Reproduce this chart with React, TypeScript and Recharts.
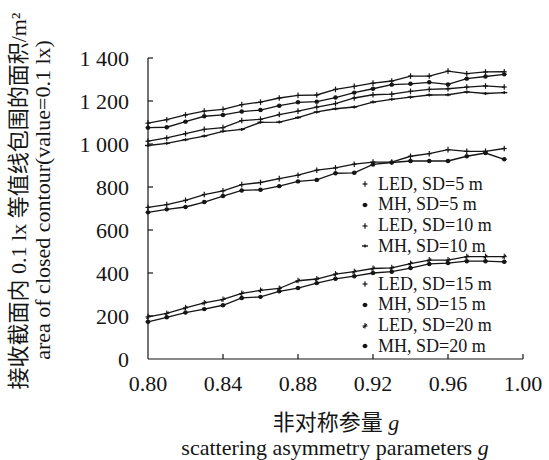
import { LineChart, Line, XAxis, YAxis, Label } from "recharts"

// scattering asymmetry parameter g
const gValues = [0.8, 0.81, 0.82, 0.83, 0.84, 0.85, 0.86, 0.87, 0.88, 0.89, 0.9, 0.91, 0.92, 0.93, 0.94, 0.95, 0.96, 0.97, 0.98, 0.99]

// enclosed area of the 0.1 lx contour, m²
const ledSd5 = [1097, 1113, 1135, 1153, 1161, 1183, 1195, 1214, 1226, 1228, 1254, 1268, 1283, 1293, 1316, 1316, 1339, 1327, 1335, 1336]
const mhSd5 = [1076, 1078, 1104, 1129, 1135, 1151, 1158, 1178, 1194, 1197, 1216, 1239, 1257, 1276, 1280, 1287, 1277, 1304, 1314, 1324]
const ledSd10 = [1013, 1028, 1048, 1068, 1076, 1109, 1115, 1137, 1153, 1172, 1188, 1214, 1229, 1232, 1245, 1254, 1257, 1265, 1270, 1265]
const mhSd10 = [993, 1003, 1020, 1037, 1059, 1068, 1101, 1102, 1123, 1149, 1164, 1172, 1195, 1208, 1218, 1228, 1229, 1242, 1235, 1239]
const ledSd15 = [705, 718, 738, 765, 782, 811, 821, 839, 855, 878, 889, 906, 916, 916, 943, 955, 974, 966, 966, 979]
const mhSd15 = [682, 696, 707, 730, 758, 784, 787, 804, 826, 833, 864, 866, 905, 914, 921, 921, 921, 943, 958, 929]
const ledSd20 = [196, 212, 238, 261, 277, 305, 319, 328, 364, 372, 395, 406, 421, 424, 444, 460, 460, 476, 476, 476]
const mhSd20 = [173, 194, 216, 232, 250, 284, 289, 315, 330, 353, 373, 385, 400, 406, 423, 442, 446, 455, 455, 452]

const xTicks = [0.8, 0.84, 0.88, 0.92, 0.96, 1.0]
const yTicks = [0, 200, 400, 600, 800, 1000, 1200, 1400]

type MarkerKind = "plus" | "dot" | "dash" | "star"

const series: { key: string; name: string; values: number[]; marker: MarkerKind }[] = [
  { key: "ledSd5", name: "LED, SD=5 m", values: ledSd5, marker: "plus" },
  { key: "mhSd5", name: "MH, SD=5 m", values: mhSd5, marker: "dot" },
  { key: "ledSd10", name: "LED, SD=10 m", values: ledSd10, marker: "plus" },
  { key: "mhSd10", name: "MH, SD=10 m", values: mhSd10, marker: "dash" },
  { key: "ledSd15", name: "LED, SD=15 m", values: ledSd15, marker: "plus" },
  { key: "mhSd15", name: "MH, SD=15 m", values: mhSd15, marker: "dot" },
  { key: "ledSd20", name: "LED, SD=20 m", values: ledSd20, marker: "star" },
  { key: "mhSd20", name: "MH, SD=20 m", values: mhSd20, marker: "dot" },
]

const data = gValues.map((g, i) => {
  const row: Record<string, number> = { g }
  series.forEach((s) => {
    row[s.key] = s.values[i]
  })
  return row
})

const INK = "#151515"
const SERIF = "'Liberation Serif', 'Times New Roman', serif"
const SERIF_CJK = "'Liberation Serif', 'Noto Sans CJK SC', serif"

function Marker({ cx, cy, kind }: { cx: number; cy: number; kind: MarkerKind }) {
  if (kind === "dot") {
    return (
      <g stroke={INK} strokeWidth={1.2}>
        <line x1={cx - 2.5} y1={cy} x2={cx + 2.5} y2={cy} />
        <circle cx={cx} cy={cy} r={1.6} fill={INK} />
      </g>
    )
  }
  if (kind === "dash") {
    return (
      <g stroke={INK} strokeWidth={1.4}>
        <line x1={cx - 3} y1={cy} x2={cx + 3} y2={cy} />
        <line x1={cx} y1={cy - 1.5} x2={cx} y2={cy + 1.5} />
      </g>
    )
  }
  if (kind === "star") {
    return (
      <g stroke={INK} strokeWidth={1.1}>
        <line x1={cx - 2.5} y1={cy} x2={cx + 2.5} y2={cy} />
        <line x1={cx} y1={cy - 3} x2={cx} y2={cy + 2.5} />
        <line x1={cx - 1.8} y1={cy + 1.8} x2={cx + 1.8} y2={cy - 1.8} />
      </g>
    )
  }
  return (
    <g stroke={INK} strokeWidth={1.2}>
      <line x1={cx - 2.5} y1={cy} x2={cx + 2.5} y2={cy} />
      <line x1={cx} y1={cy - 2.8} x2={cx} y2={cy + 2.8} />
    </g>
  )
}

const fmtY = (v: number) => (v >= 1000 ? `${Math.floor(v / 1000)} ${String(v % 1000).padStart(3, "0")}` : String(v))

function YTick({ x, y, payload }: any) {
  return (
    <g>
      {payload.value > 0 && <line x1={x} y1={y} x2={x + 5} y2={y} stroke={INK} strokeWidth={1.2} />}
      <text x={x - 19} y={y} dy="0.35em" textAnchor="end" fontSize={22} fontFamily={SERIF} fill={INK}>
        {fmtY(payload.value)}
      </text>
    </g>
  )
}

function XTick({ x, y, payload }: any) {
  return (
    <g>
      {payload.value > 0.8 && <line x1={x} y1={y} x2={x} y2={y - 5} stroke={INK} strokeWidth={1.2} />}
      <text x={x} y={y + 24} dy="0.35em" textAnchor="middle" fontSize={22} fontFamily={SERIF} fill={INK}>
        {payload.value.toFixed(2)}
      </text>
    </g>
  )
}

function YTitle() {
  return (
    <g fill={INK} fontSize={22} textAnchor="middle">
      <text x={26} y={201} transform="rotate(-90 26 201)" fontFamily={SERIF_CJK}>
        接收截面内 0.1 lx 等值线包围的面积/m²
      </text>
      <text x={50} y={200} transform="rotate(-90 50 200)" fontFamily={SERIF}>
        area of closed contour(value=0.1 lx)
      </text>
    </g>
  )
}

function XTitle() {
  return (
    <g fill={INK} fontSize={22} textAnchor="middle">
      <text x={336} y={430} fontFamily={SERIF_CJK}>
        非对称参量 <tspan fontStyle="italic" fontFamily={SERIF}>g</tspan>
      </text>
      <text x={335} y={455} fontFamily={SERIF}>
        scattering asymmetry parameters <tspan fontStyle="italic">g</tspan>
      </text>
    </g>
  )
}

// legend rows sit inside the plot, between the curve bundles
function LegendBlock({ items, top }: { items: typeof series; top: number }) {
  return (
    <div style={{ position: "absolute", left: 358, top, fontFamily: SERIF, fontSize: 18, lineHeight: "20.8px", color: INK }}>
      {items.map((s) => (
        <div key={s.key} style={{ display: "flex", alignItems: "center", height: 20.8, whiteSpace: "nowrap" }}>
          <svg width={14} height={10} style={{ marginRight: 6 }}>
            <Marker cx={7} cy={5} kind={s.marker} />
          </svg>
          <span>{s.name}</span>
        </div>
      ))}
    </div>
  )
}

export default function App() {
  return (
    <div style={{ position: "relative", width: 549, height: 460, background: "#fff" }}>
      <style>{`body{margin:0}`}</style>
      <LineChart width={549} height={460} data={data} margin={{ top: 58, right: 26, bottom: 61, left: 88 }}>
        <XAxis
          dataKey="g"
          type="number"
          domain={[0.8, 1.0]}
          ticks={xTicks}
          height={40}
          tickLine={false}
          tickSize={0}
          tickMargin={0}
          tick={<XTick />}
          axisLine={{ stroke: INK, strokeWidth: 1.2 }}
        >
          <Label content={<XTitle />} />
        </XAxis>
        <YAxis
          type="number"
          domain={[0, 1400]}
          ticks={yTicks}
          width={60}
          tickLine={false}
          tickSize={0}
          tickMargin={0}
          tick={<YTick />}
          axisLine={{ stroke: INK, strokeWidth: 1.2 }}
        >
          <Label content={<YTitle />} />
        </YAxis>
        {series.map((s) => (
          <Line
            key={s.key}
            dataKey={s.key}
            name={s.name}
            stroke={INK}
            strokeWidth={1.3}
            isAnimationActive={false}
            dot={(p: any) => <Marker key={`${s.key}-${p.index}`} cx={p.cx} cy={p.cy} kind={s.marker} />}
            activeDot={false}
          />
        ))}
      </LineChart>
      <LegendBlock items={series.slice(0, 4)} top={173.6} />
      <LegendBlock items={series.slice(4)} top={273.6} />
    </div>
  )
}
